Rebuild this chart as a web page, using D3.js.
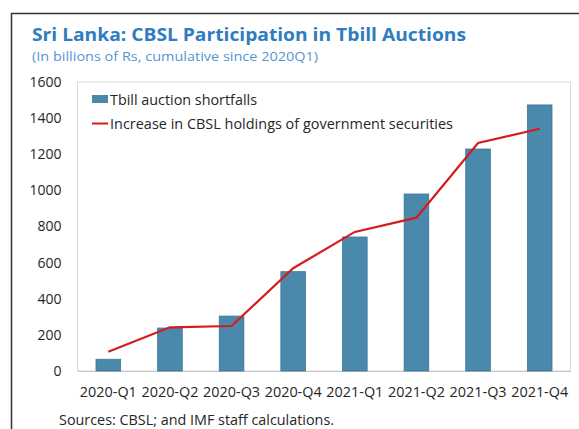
<!DOCTYPE html>
<html><head><meta charset="utf-8">
<script src="https://cdn.jsdelivr.net/npm/d3@7"></script>
<style>body{margin:0;background:#fff;} svg{display:block;font-family:"Open Sans",sans-serif;}</style>
</head><body>
<svg id="c" width="579" height="429"></svg>
<script>
const categories = ["2020-Q1","2020-Q2","2020-Q3","2020-Q4","2021-Q1","2021-Q2","2021-Q3","2021-Q4"];
const shortfalls = [65, 238, 304, 550, 742, 980, 1229, 1473];
const holdings = [107, 242, 249, 569, 770, 849, 1262, 1341];
const yTicks = [0, 200, 400, 600, 800, 1000, 1200, 1400, 1600];
const seriesNames = ["Tbill auction shortfalls", "Increase in CBSL holdings of government securities"];

const svg = d3.select("#c");
const m = {left: 77.5, right: 570.5, top: 82, bottom: 371};
const x = d3.scaleBand().domain(categories).range([m.left, m.right]).paddingInner(0.6).paddingOuter(0.3);
const y = d3.scaleLinear().domain([0, 1600]).range([m.bottom, m.top]);
const txt = "#262626";

function fit(sel, w) { sel.attr("textLength", w).attr("lengthAdjust", "spacingAndGlyphs"); return sel; }

// outer frame
svg.append("path").attr("d", "M11.5,440 V13.5 H590").attr("fill","none").attr("stroke","#333").attr("stroke-width",1.5);

// title
fit(svg.append("text").attr("x",32).attr("y",41).attr("fill","#2f7cc0").attr("font-weight","bold").attr("font-size",17)
  .text("Sri Lanka: CBSL Participation in Tbill Auctions"), 434);
fit(svg.append("text").attr("x",32).attr("y",61).attr("fill","#5596d2").attr("font-size",13)
  .text("(In billions of Rs, cumulative since 2020Q1)"), 286);

// plot area border
svg.append("rect").attr("x",m.left).attr("y",m.top).attr("width",m.right-m.left).attr("height",m.bottom-m.top)
  .attr("fill","none").attr("stroke","#d9d9d9").attr("stroke-width",1);

// y axis
const yAx = svg.append("g").attr("transform",`translate(${m.left},0)`)
  .call(d3.axisLeft(y).tickValues(yTicks).tickFormat(d3.format("d")).tickSize(0).tickPadding(16));
yAx.select(".domain").remove();
yAx.selectAll("text").attr("font-size",14).attr("fill",txt).attr("font-family","Open Sans, sans-serif");

// x axis
const xAx = svg.append("g").attr("transform",`translate(0,${m.bottom})`)
  .call(d3.axisBottom(x).tickSize(0).tickPadding(16));
xAx.select(".domain").attr("stroke","#c8c8c8");
xAx.selectAll("text").attr("font-size",14).attr("fill",txt).attr("font-family","Open Sans, sans-serif")
  .attr("textLength",57).attr("lengthAdjust","spacingAndGlyphs");

// bars
svg.append("g").selectAll("rect").data(categories).join("rect")
  .attr("x", d => x(d)).attr("width", x.bandwidth())
  .attr("y", (d,i) => y(shortfalls[i])).attr("height", (d,i) => y(0) - y(shortfalls[i]))
  .attr("fill","#4a89ac").attr("stroke","#3d7898").attr("stroke-width",0.8);

// line
const line = d3.line().x((d,i) => x(categories[i]) + x.bandwidth()/2).y(d => y(d));
svg.append("path").datum(holdings).attr("d", line).attr("fill","none").attr("stroke","#d41c1c").attr("stroke-width",2.2);

// legend
const lg = svg.append("g");
lg.append("rect").attr("x",92).attr("y",95).attr("width",16).attr("height",8).attr("fill","#4a89ac");
fit(lg.append("text").attr("x",110).attr("y",105).attr("font-size",14).attr("fill",txt).text(seriesNames[0]), 147);
lg.append("line").attr("x1",92).attr("x2",108).attr("y1",123.5).attr("y2",123.5).attr("stroke","#d41c1c").attr("stroke-width",2);
fit(lg.append("text").attr("x",110).attr("y",128.5).attr("font-size",14).attr("fill",txt).text(seriesNames[1]), 343);

// source
fit(svg.append("text").attr("x",59).attr("y",424.5).attr("font-size",14).attr("fill",txt)
  .text("Sources: CBSL; and IMF staff calculations."), 275);
</script>
</body></html>
